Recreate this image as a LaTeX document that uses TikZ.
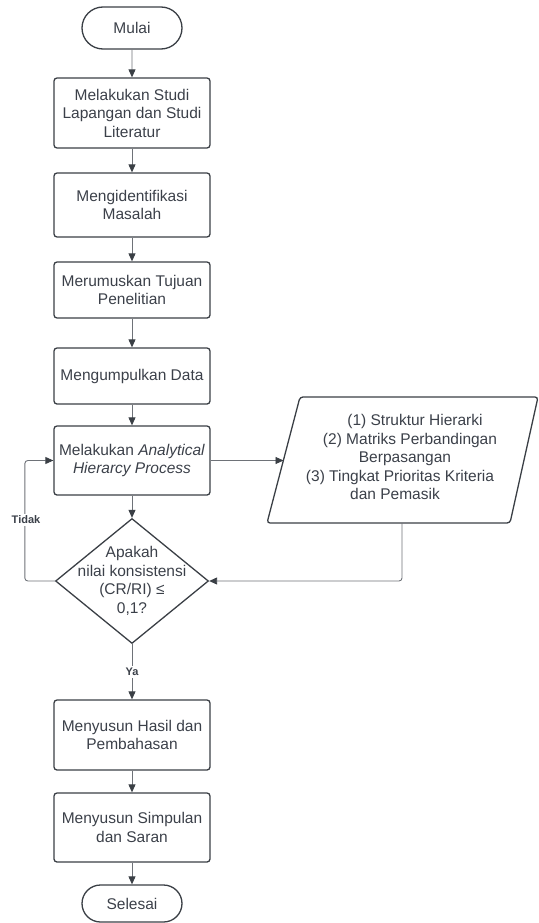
\documentclass[tikz,border=0pt]{standalone}
\usepackage{fontspec}
\setmainfont{Liberation Sans}
\usetikzlibrary{shapes.geometric,shapes.misc,arrows.meta}
\definecolor{edge}{HTML}{3A3F45}
\definecolor{conn}{HTML}{6E7278}
\definecolor{txt}{HTML}{3B4049}
\begin{document}
\begin{tikzpicture}[x=1pt,y=-1pt,
  base/.style={draw=edge,line width=1.3pt,text=txt,font=\fontsize{15.5}{18.5}\selectfont,align=center,inner sep=0pt},
  procbox/.style={base,rectangle,rounded corners=3pt,minimum width=156pt},
  term/.style={base,rounded rectangle,minimum width=100pt},
  arr/.style={draw=conn,line width=0.9pt,-{Triangle[width=7pt,length=8pt,fill=edge,color=edge]}},
  lbl/.style={fill=white,text=txt,font=\fontsize{11}{13}\selectfont\bfseries,inner sep=2pt}]
\useasboundingbox (0,0) rectangle (538,923);
\node[term,minimum height=42pt] (mulai) at (132,28) {Mulai};
\node[procbox,minimum height=70pt] (b1) at (132,113) {Melakukan Studi\\Lapangan dan Studi\\Literatur};
\node[procbox,minimum height=64pt] (b2) at (132,205) {Mengidentifikasi\\Masalah};
\node[procbox,minimum height=56pt] (b3) at (132,290) {Merumuskan Tujuan\\Penelitian};
\node[procbox,minimum height=56pt] (b4) at (132,376) {Mengumpulkan Data};
\node[procbox,minimum height=69pt] (b5) at (132,460.5) {Melakukan \textit{Analytical}\\\textit{Hierarcy Process}};
\node[base,diamond,minimum width=153pt,minimum height=125pt] (dia) at (132,581) {};
\node[text=txt,font=\fontsize{15.5}{18.5}\selectfont,align=center,inner sep=0pt] (diatext) at (132,581) {Apakah\\nilai konsistensi\\(CR/RI) ≤\\0,1?};
\node[procbox,minimum height=70pt] (b6) at (132,735) {Menyusun Hasil dan\\Pembahasan};
\node[procbox,minimum height=69pt] (b7) at (132,827.5) {Menyusun Simpulan\\dan Saran};
\node[term,minimum height=37pt] (selesai) at (132,903.5) {Selesai};
% parallelogram
\draw[draw=edge,line width=1.3pt,rounded corners=3pt] (300,397) -- (538,397) -- (510,523) -- (267,523) -- cycle;
\coordinate (parl) at (283.5,460.5);
\coordinate (pdown) at (402,523);
\node[text=txt,font=\fontsize{15.5}{18.5}\selectfont,align=center,inner sep=0pt] (partext) at (400,457)
  {\hspace*{30pt}(1) Struktur Hierarki\\\hspace*{20pt}(2) Matriks Perbandingan\\\hspace*{10pt}Berpasangan\\(3) Tingkat Prioritas Kriteria\\dan Pemasik\hspace*{10pt}};
\draw[arr] (mulai) -- (b1);
\draw[arr] (b1) -- (b2);
\draw[arr] (b2) -- (b3);
\draw[arr] (b3) -- (b4);
\draw[arr] (b4) -- (b5);
\draw[arr] (b5) -- (dia);
\draw[arr] (dia) -- node[lbl] (ya) {Ya} (b6);
\draw[arr] (b6) -- (b7);
\draw[arr] (b7) -- (selesai);
\draw[arr] (b5.east) -- (parl);
\draw[arr,rounded corners=3pt] (pdown) |- (dia.east);
\coordinate (lft) at ([xshift=-30pt]dia.west);
\draw[arr,rounded corners=3pt] (dia.west) -- (lft) |- (b5.west);
\node[lbl] (tidak) at (26,520) {Tidak};
\end{tikzpicture}
\end{document}
